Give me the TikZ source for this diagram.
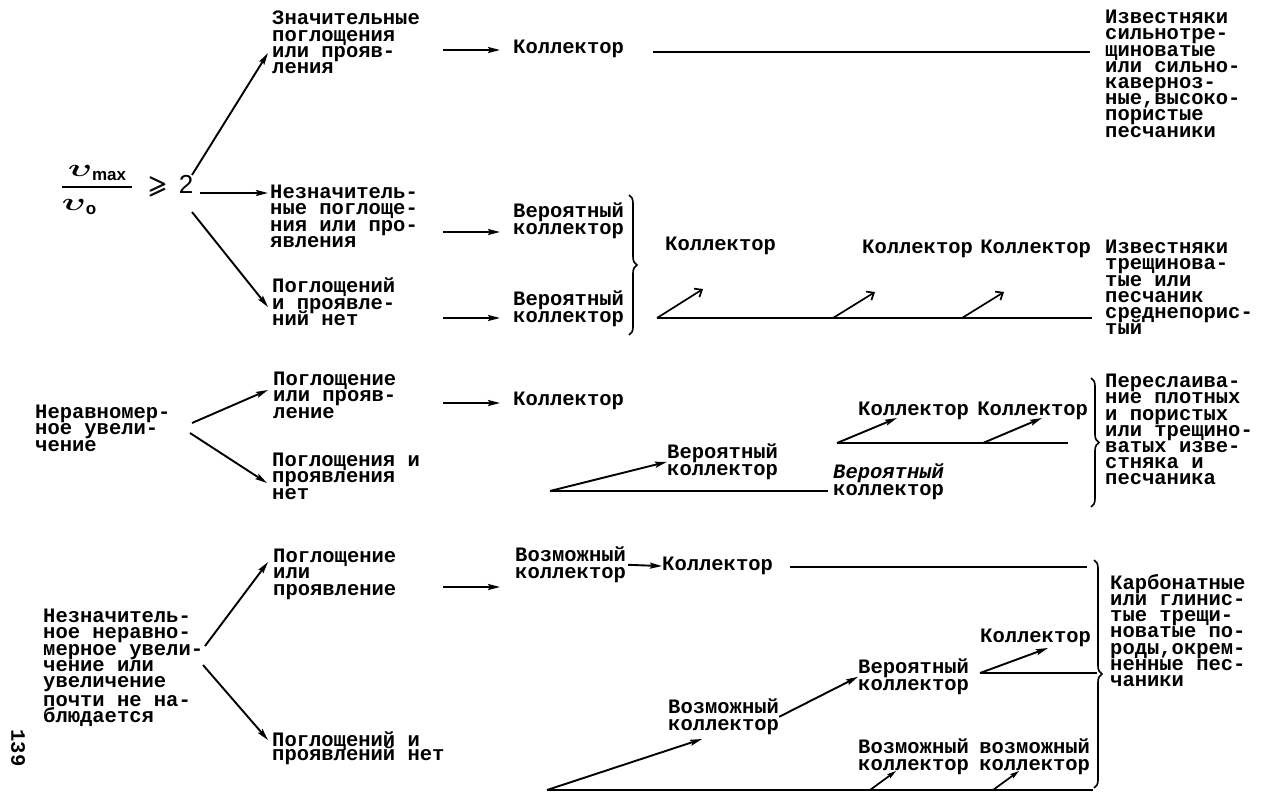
\documentclass[tikz,border=0pt]{standalone}
\usepackage{amsmath,amssymb,bm}
\usepackage{fontspec}
\usetikzlibrary{positioning,arrows.meta,decorations.pathreplacing}
\newfontfamily\tw{Liberation Mono}
\newfontfamily\sfb{Liberation Sans}
\newcommand{\tws}{\fontsize{20.5pt}{16.2pt}\selectfont\lineskiplimit=-20pt\bfseries}
\newcommand{\vel}{\scalebox{1.45}[1]{$\boldsymbol{\upsilon}$}}
\tikzset{
  txt/.style={font=\tw\tws, align=left, anchor=north west, inner sep=0pt,
    execute at begin node={\rule{0pt}{13pt}}},
  arr/.style={-{Stealth[length=12pt,width=6pt,inset=2pt]}, line width=1.9pt},
  sarr/.style={-{Stealth[length=9pt,width=5pt,inset=1.5pt]}, line width=1.7pt},
  barb/.style={-{Straight Barb[length=6pt,width=10pt]}, line width=1.7pt},
  ln/.style={line width=1.9pt},
  brc/.style={decorate, decoration={brace, amplitude=8pt}, line width=1.6pt},
}

\begin{document}
\begin{tikzpicture}[x=1pt,y=-1pt]
  \useasboundingbox[fill=white] (0,0) rectangle (1265,795);
  % левая колонка
  \node (frac) at (127,190) {\fontsize{24.88pt}{26pt}\selectfont
    $\genfrac{}{}{1.8pt}{0}{\mbox{\vel\raisebox{-4pt}{\sfb\bfseries\fontsize{17pt}{17pt}\selectfont max}}}
      {\mbox{\vel\raisebox{-4pt}{\sfb\bfseries\fontsize{17pt}{17pt}\selectfont o}\hspace{36pt}}}
      \;\boldsymbol{\geqslant}\,\mbox{\sfb\fontsize{26pt}{26pt}\selectfont 2}$};
  \node[txt] (n1) at (35,405) {Неравномер-\\ное увели-\\чение};
  \node[txt] (n2) at (43,609) {Незначитель-\\ное неравно-\\мерное увели-\\чение или\\увеличение\\[3pt]почти не на-\\блюдается};
  \node[txt, rotate=-90, anchor=center] (pg) at (18,748) {139};

  \node[txt] (t1) at (272,11) {Значительные\\поглощения\\или прояв-\\ления};
  \node[txt] (t2) at (270,185) {Незначитель-\\ные поглоще-\\ния или про-\\явления};
  \node[txt] (t3) at (272,278) {Поглощений\\и проявле-\\ний нет};
  \node[txt] (t4) at (273,372) {Поглощение\\или прояв-\\ление};
  \node[txt] (t5) at (272,453) {Поглощения и\\проявления\\нет};
  \node[txt] (t6) at (273,549) {Поглощение\\или\\проявление};
  \node[txt] (t7) at (272,732) {Поглощений и\\[-3pt]проявлений нет};

  \node[txt] (k1) at (513,40) {Коллектор};
  \node[txt] (v1) at (513,203) {Вероятный\\коллектор};
  \node[txt] (v2) at (513,291) {Вероятный\\коллектор};
  \node[txt] (k2) at (513,392) {Коллектор};
  \node[txt] (p1) at (515,547) {Возможный\\коллектор};
  \node[txt] (k3) at (662,557) {Коллектор};

  \node[txt] (k4) at (665,237) {Коллектор};
  \node[txt] (k5) at (862,240) {Коллектор};
  \node[txt, right=7pt of k5] (k6) {Коллектор};

  \node[txt] (v3) at (667,444) {Вероятный\\коллектор};
  \node[txt] (v4) at (833,464) {{\itshape Вероятный}\\коллектор};
  \node[txt] (k7) at (858,402) {Коллектор};
  \node[txt, right=8pt of k7] (k8) {Коллектор};

  \node[txt] (k9) at (980,629) {Коллектор};
  \node[txt] (v5) at (858,659) {Вероятный\\коллектор};
  \node[txt] (p2) at (668,699) {Возможный\\коллектор};
  \node[txt] (p3) at (858,739) {Возможный\\коллектор};
  \node[txt, right=10pt of p3] (p4) {возможный\\коллектор};

  % правая колонка
  \node[txt] (r1) at (1105,10) {Известняки\\сильнотре-\\щиноватые\\или сильно-\\каверноз-\\ные,высоко-\\пористые\\песчаники};
  \node[txt] (r2) at (1105,240) {Известняки\\трещинова-\\тые или\\песчаник\\среднепорис-\\тый};
  \node[txt] (r3) at (1105,374) {Переслаива-\\ние плотных\\и пористых\\или трещино-\\ватых изве-\\стняка и\\песчаника};
  \node[txt] (r4) at (1110,574) {Карбонатные\\или глинис-\\тые трещи-\\новатые по-\\роды,окрем-\\ненные пес-\\чаники};

  % точки стрелок
  \coordinate (f0) at (192,175); \coordinate (g0) at (268,53);
  \coordinate (f1) at (200,193); \coordinate (g1) at (268,193);
  \coordinate (f2) at (192,212); \coordinate (g2) at (268,307);
  \coordinate (h0) at (192,423); \coordinate (h1) at (268,390);
  \coordinate (h2) at (190,433); \coordinate (h3) at (267,483);
  \coordinate (m0) at (205,646); \coordinate (m1) at (268,562);
  \coordinate (m2) at (203,665); \coordinate (m3) at (268,740);
  \foreach \i/\y in {1/50,2/232,3/318,4/403,5/587}{
    \coordinate (s\i) at (443,\y); \coordinate (e\i) at (500,\y);}
  \coordinate (l1a) at (653,52);  \coordinate (l1b) at (1090,52);
  \coordinate (l2a) at (657,318); \coordinate (l2b) at (1092,318);
  \coordinate (l3a) at (550,491); \coordinate (l3b) at (828,491);
  \coordinate (l4a) at (837,443); \coordinate (l4b) at (1068,443);
  \coordinate (l5a) at (790,567); \coordinate (l5b) at (1087,567);
  \coordinate (l6a) at (980,673); \coordinate (l6b) at (1097,673);
  \coordinate (l7a) at (547,790); \coordinate (l7b) at (1093,790);

  \draw[arr] (f0) -- (g0);
  \draw[arr] (f1) -- (g1);
  \draw[arr] (f2) -- (g2);
  \draw[arr] (h0) -- (h1);
  \draw[arr] (h2) -- (h3);
  \draw[arr] (m0) -- (m1);
  \draw[arr] (m2) -- (m3);
  \foreach \i in {1,...,5} \draw[arr] (s\i) -- (e\i);

  \draw[ln] (l1a) -- (l1b);
  \draw[brc] (629,195) -- (629,335);
  \draw[ln] (l2a) -- (l2b);
  \draw[barb] (l2a) -- ++(46,-29);
  \draw[barb] (833,318) -- ++(42,-26);
  \draw[barb] (962,318) -- ++(42,-26);

  \draw[ln] (l3a) -- (l3b);
  \draw[arr] (l3a) -- (v3.west);
  \draw[ln] (l4a) -- (l4b);
  \draw[arr] (l4a) -- ++(60,-25);
  \draw[arr] (983,443) -- ++(59,-25);
  \draw[brc] (1091,378) -- (1091,507);

  \draw[arr] ([xshift=2pt]p1.east) -- (k3.west);
  \draw[ln] (l5a) -- (l5b);
  \draw[ln] (l6a) -- (l6b);
  \draw[arr] (l6a) -- ++(68,-25);
  \draw[arr] (p2.east) -- (v5.west);
  \draw[ln] (l7a) -- (l7b);
  \draw[arr] (l7a) -- ++(155,-51);
  \draw[sarr] (870,790) -- ++(26,-19);
  \draw[sarr] (993,790) -- ++(26,-19);
  \draw[brc] (1094,560) -- (1094,788);
\end{tikzpicture}
\end{document}
